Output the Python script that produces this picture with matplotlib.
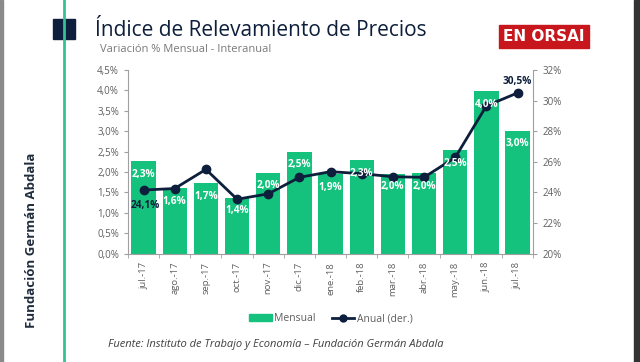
import numpy as np
import matplotlib.pyplot as plt
from matplotlib.patches import Rectangle
from matplotlib.lines import Line2D

#------------------------------------------------------------------------------
# datos
meses = ["jul.-17", "ago.-17", "sep.-17", "oct.-17", "nov.-17", "dic.-17", "ene.-18",
         "feb.-18", "mar.-18", "abr.-18", "may.-18", "jun.-18", "jul.-18"]
mensual = [2.27, 1.60, 1.72, 1.37, 1.98, 2.50, 1.94, 2.29, 1.96, 1.97, 2.53, 3.98, 3.01]
mensual_lbl = ["2,3%", "1,6%", "1,7%", "1,4%", "2,0%", "2,5%", "1,9%",
               "2,3%", "2,0%", "2,0%", "2,5%", "4,0%", "3,0%"]
anual = [24.15, 24.25, 25.5, 23.55, 23.9, 24.98, 25.35, 25.22, 25.02, 24.98, 26.28, 29.65, 30.5]
anual_lbl = {0: "24,1%", 12: "30,5%"}

left_ticks = [0, 0.5, 1, 1.5, 2, 2.5, 3, 3.5, 4, 4.5]
right_ticks = [20, 22, 24, 26, 28, 30, 32]

#------------------------------------------------------------------------------
verde = "#15C27D"
navy = "#0E1F3D"
gris = "#5F5F5F"

plt.rcParams['font.family'] = ['Open Sans', 'DejaVu Sans']

fig = plt.figure(figsize=(6.4, 3.62), dpi=100)
fig.patch.set_facecolor("white")

ax = fig.add_axes([0.2, 0.2997, 0.633, 0.507])
x = np.arange(len(meses))
ax.bar(x, mensual, width=0.78, color=verde, zorder=1)
ax.set_xlim(-0.5, len(meses) - 0.5)
ax.set_ylim(0, 4.5)
ax.set_yticks(left_ticks)
ax.set_yticklabels([("%.1f%%" % v).replace(".", ",") for v in left_ticks])
ax.set_xticks(x)
ax.set_xticklabels(meses, rotation=90)
ax.set_xticks(np.arange(-0.5, len(meses)), minor=True)
ax.tick_params(axis="x", which="major", length=0, pad=6, labelsize=6.8, colors=gris)
ax.tick_params(axis="x", which="minor", length=3, color="#A0A0A0")
ax.tick_params(axis="y", length=3, color="#A0A0A0", labelsize=7, colors=gris)
for s in ["top", "right"]:
    ax.spines[s].set_visible(False)
for s in ["left", "bottom"]:
    ax.spines[s].set_color("#A0A0A0")

ax2 = ax.twinx()
ax2.plot(x, anual, color=navy, lw=2, marker="o", ms=6, zorder=3)
ax2.set_ylim(20, 32)
ax2.set_yticks(right_ticks)
ax2.set_yticklabels(["%d%%" % v for v in right_ticks])
ax2.tick_params(axis="y", length=3, color="#A0A0A0", labelsize=7, colors=gris)
for s in ["top", "left", "bottom"]:
    ax2.spines[s].set_visible(False)
ax2.spines["right"].set_color("#A0A0A0")

# etiquetas de las barras por encima de la linea
for i, v in enumerate(mensual):
    ax2.annotate(mensual_lbl[i], (i, v), xycoords=ax.transData, xytext=(0, -9.5),
                 textcoords="offset points", ha="center", va="center", color="white",
                 fontsize=7.3, fontweight="bold", zorder=5)

ax2.annotate(anual_lbl[0], (0, anual[0]), xytext=(1, -11), textcoords="offset points",
             ha="center", va="center", color=navy, fontsize=7.3, fontweight="bold", zorder=6)
ax2.annotate(anual_lbl[12], (12, anual[12]), xytext=(0, 8), textcoords="offset points",
             ha="center", va="center", color=navy, fontsize=7.3, fontweight="bold", zorder=6)

# leyenda
h1 = Rectangle((0, 0), 1, 1, color=verde)
h2 = Line2D([], [], color=navy, lw=2, marker="o", ms=5)
fig.legend([h1, h2], ["Mensual", "Anual (der.)"], loc="center", bbox_to_anchor=(0.517, 0.119),
           ncol=2, frameon=False, fontsize=7.5, labelcolor=gris, handlelength=2.2,
           handletextpad=0.2, columnspacing=1.5)

# titulos y decoracion
fig.add_artist(Line2D([64/640, 64/640], [0, 1], color="#35C292", lw=2))
fig.add_artist(Rectangle((53/640, 1-39/362), 22/640, 20/362, color=navy))
fig.text(95/640, 1-31/362, "Índice de Relevamiento de Precios", fontsize=15,
         color=navy, va="center", ha="left")
fig.text(100/640, 1-50/362, "Variación % Mensual - Interanual", fontsize=8,
         color="#7A7A7A", va="center", ha="left")
fig.text(108/640, 1-344/362, "Fuente: Instituto de Trabajo y Economía – Fundación Germán Abdala",
         fontsize=8, style="italic", color="#404040", va="center", ha="left")
fig.text(32/640, 1-240/362, "Fundación Germán Abdala", fontsize=9.5, fontweight="bold",
         color="#1F2D3D", rotation=90, va="center", ha="center")

fig.add_artist(Rectangle((499/640, 1-48/362), 90/640, 23/362, color="#C8161D"))
fig.text(544/640, 1-36.5/362, "EN ORSAI", fontsize=11, fontweight="bold", color="white",
         va="center", ha="center", family=["Liberation Sans Narrow", "DejaVu Sans"])

# bordes
fig.add_artist(Rectangle((0, 0), 3/640, 1, color="#8A8A8A"))
fig.add_artist(Rectangle((634/640, 0), 6/640, 1, color="#333333"))

fig.savefig("out.png", dpi=100)
